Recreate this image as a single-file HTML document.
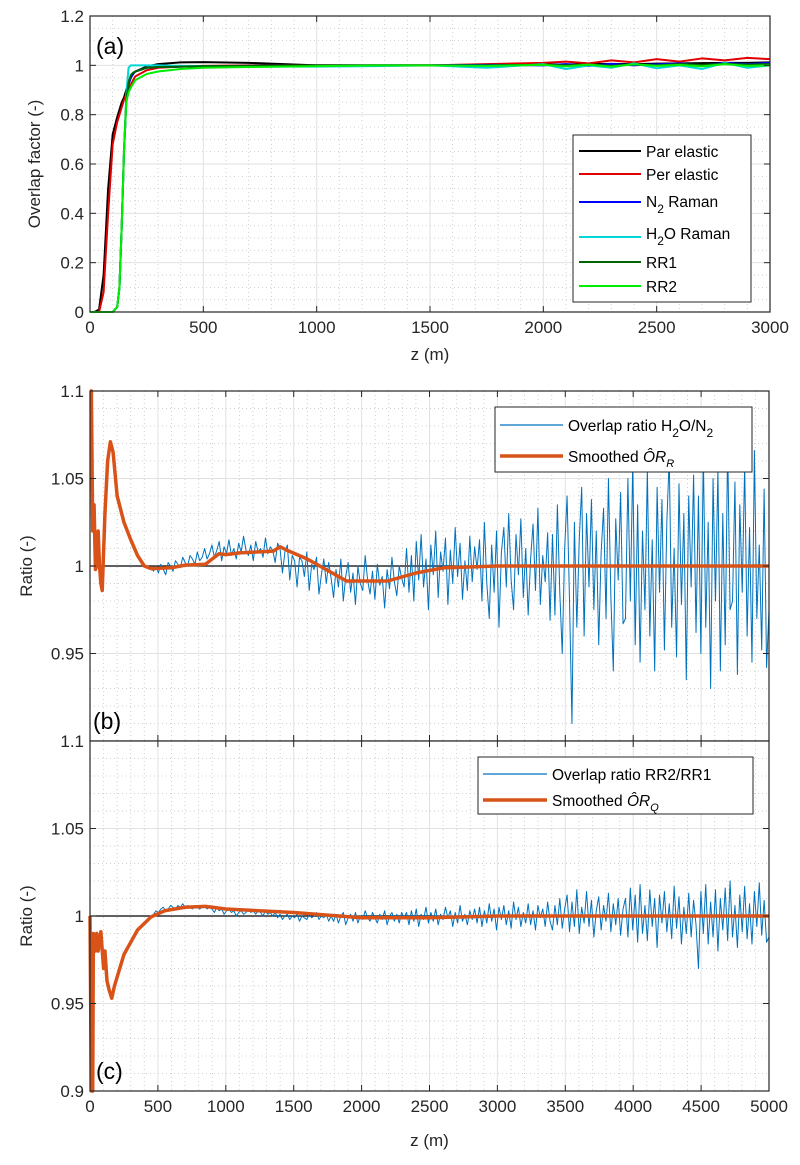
<!DOCTYPE html>
<html><head><meta charset="utf-8">
<style>
html,body{margin:0;padding:0;background:#fff;}
svg{display:block;font-family:"Liberation Sans",Arial,sans-serif;}
.tk{font-size:17px;fill:#262626;}
.tt{font-size:17px;fill:#262626;}
.lg{font-size:15.5px;fill:#000;}
</style></head>
<body>
<svg id="chart" width="800" height="1165" viewBox="0 0 800 1165" xmlns="http://www.w3.org/2000/svg"></svg>
<script>
// ---------- Panel (a) data ----------
const zA = [0,20,40,60,80,100,120,130,140,150,160,170,180,190,200,250,300,400,500,700,1000,1250,1500,1750,2000,2100,2200,2300,2400,2500,2600,2700,2800,2900,3000];
const parElastic = [0,0,0.01,0.15,0.5,0.72,0.79,0.82,0.85,0.87,0.9,0.93,0.95,0.965,0.975,0.995,1.005,1.012,1.013,1.01,1.0,1.0,1.0,1.002,1.003,1.004,1.005,1.006,1.005,1.007,1.008,1.009,1.01,1.01,1.012];
const perElastic = [0,0,0,0.08,0.4,0.68,0.77,0.8,0.83,0.86,0.88,0.9,0.92,0.94,0.955,0.98,0.99,0.995,0.998,1.0,1.0,1.0,1.0,1.005,1.01,1.015,1.008,1.02,1.012,1.025,1.015,1.028,1.02,1.03,1.025];
const n2Raman = [0,0,0,0,0,0,0.02,0.1,0.35,0.65,0.85,0.92,0.95,0.965,0.975,0.99,0.993,0.995,0.997,0.998,1.0,1.0,1.0,1.002,1.0,1.005,0.998,1.006,1.0,1.004,1.008,1.0,1.01,1.005,1.01];
const h2oRaman = [0,0,0,0,0,0,0.02,0.1,0.35,0.65,0.88,0.99,1.0,1.0,1.0,1.0,1.0,0.998,0.997,0.995,0.995,0.997,1.0,0.99,1.005,0.985,1.0,0.99,1.008,0.988,1.0,0.985,1.01,0.99,1.0];
const rr1 = [0,0,0,0,0,0,0.02,0.1,0.35,0.65,0.86,0.93,0.96,0.97,0.975,0.99,0.993,0.995,0.997,0.998,1.0,1.0,1.0,1.0,1.002,1.0,1.003,0.998,1.004,1.0,1.005,1.002,1.006,1.003,1.005];
const rr2 = [0,0,0,0,0,0,0.02,0.1,0.35,0.65,0.85,0.89,0.91,0.925,0.94,0.965,0.975,0.985,0.99,0.993,0.997,1.0,1.0,0.998,1.002,0.996,1.003,0.995,1.004,0.998,1.002,0.996,1.005,0.998,1.0];
const seriesNamesA = ["Par elastic","Per elastic","N2 Raman","H2O Raman","RR1","RR2"];
const xTicksA = [0,500,1000,1500,2000,2500,3000];
const yTicksA = [0,0.2,0.4,0.6,0.8,1,1.2];

// ---------- Panel (b) data ----------
const zSmoothB = [0,10,20,30,40,50,60,70,80,90,110,130,150,170,200,250,300,350,400,450,600,700,850,950,1000,1100,1350,1400,1450,1600,1890,2190,2400,2600,3000,5000];
const smoothB = [1.1,1.1,1.02,1.035,0.998,1.0,1.02,1.0,0.99,0.986,1.03,1.06,1.071,1.065,1.04,1.025,1.015,1.006,1.0,0.9985,0.999,1.0005,1.001,1.007,1.0065,1.0075,1.0085,1.011,1.009,1.004,0.9914,0.9914,0.996,0.9989,1.0,1.0];
const noiseStartB = 450, noiseEndB = 5000;
const noiseB = [-1,-3,0,-4,1,-2,-5,2,0,-3,3,1,-1,5,2,0,6,4,1,8,3,5,10,4,7,
12,5,9,14,3,11,7,15,6,10,4,13,8,17,9,6,12,3,14,8,10,5,16,7,11,
9,2,13,10,-4,8,12,-8,6,3,-12,5,3,-6,8,-14,1,-2,5,-16,-5,4,-10,2,-7,
-18,-2,-12,4,-20,-6,2,-15,-4,-22,0,-10,-14,6,-8,-16,-3,-19,1,-11,-6,-24,-2,-13,5,-9,-17,0,-7,-12,
10,-15,6,-20,14,-8,18,-12,4,-25,12,-5,20,-18,8,-3,16,-22,9,-10,22,-6,13,-19,3,-14,17,-9,11,-2,
15,-20,25,-10,-30,12,-15,20,-35,8,22,-12,30,-8,-25,18,-5,27,-18,10,-28,4,24,-14,33,-22,6,-9,19,-31,
18,-28,35,-15,-50,10,40,-20,-90,25,-35,15,45,-40,30,-12,38,-25,20,-45,8,33,-30,50,-18,-60,27,-8,42,-33,
-30,50,-20,60,-45,35,-55,20,-25,55,-40,15,-60,45,-15,38,-48,25,62,-35,10,-52,47,-22,30,-65,40,-12,52,-38,
40,-50,65,-35,25,-70,50,-20,55,-60,30,-45,70,-25,-20,48,-62,35,-15,58,-40,22,-55,66,-30,12,-48,44,-58,-25];

// ---------- Panel (c) data ----------
const zSmoothC = [0,10,20,25,40,50,60,80,100,110,125,140,160,180,250,350,450,550,700,850,1000,1500,2000,2500,3000,5000];
const smoothC = [1.0,0.9,0.9,0.99,0.98,0.99,0.98,0.991,0.97,0.98,0.963,0.958,0.953,0.96,0.978,0.992,0.9995,1.003,1.005,1.0055,1.004,1.002,0.999,0.999,1.0,1.0];
const noiseStartC = 450, noiseEndC = 5000;
const noiseC = [0,1,3,2,4,5,3,4,6,5,4,6,5,7,5,6,5,4,6,5,4,5,6,4,5,
4,2,5,3,4,1,3,4,2,3,0,2,3,1,2,4,2,3,1,3,2,0,3,1,2,
0,2,-1,1,-2,0,1,-2,0,-1,1,-3,0,-1,-2,1,-1,0,2,-2,0,-1,1,-3,0,
-3,1,-4,0,2,-5,-1,1,-3,2,-4,0,-2,3,-1,-3,2,-1,-4,1,-2,3,-5,0,2,-3,1,-4,2,-1,
2,-5,3,-3,4,-6,1,-2,5,-4,2,-3,4,-5,1,-2,5,-1,3,-6,2,-4,6,-3,1,-5,3,-2,4,-4,
5,-6,3,-4,7,-3,4,-8,5,-2,6,-5,3,-7,8,-2,5,-6,2,-4,7,-5,3,-8,6,-1,4,-6,8,-3,
-8,6,-5,10,-7,4,12,-9,8,-6,15,-10,5,-4,14,-6,9,-12,3,11,-8,6,-3,13,-9,7,-5,10,-11,4,
10,-12,16,-8,12,-15,18,-10,6,-14,15,-6,10,-18,12,-4,14,-9,7,-13,17,-7,11,-16,5,-10,13,-12,9,-5,
-30,14,-10,18,-16,8,-12,15,-20,10,-8,16,-14,20,-12,6,-18,12,-9,17,-13,7,-16,14,-6,19,-11,9,-15,-12];
const xTicksBC = [0,500,1000,1500,2000,2500,3000,3500,4000,4500,5000];
const yTicksBC = [0.9,0.95,1,1.05,1.1];

const NS = "http://www.w3.org/2000/svg";
const svg = document.getElementById("chart");
function mk(tag, attrs, parent){
  const e = document.createElementNS(NS, tag);
  for (const k in attrs) e.setAttribute(k, attrs[k]);
  (parent||svg).appendChild(e);
  return e;
}
function lin(d0,d1,r0,r1){ return v => r0 + (v-d0)/(d1-d0)*(r1-r0); }

function axesFrame(g, L, T, R, B, sx, sy, xMaj, xMin, yMaj, yMin){
  mk("rect",{x:L,y:T,width:R-L,height:B-T,fill:"#fff"},g);
  xMin.forEach(v=>{ if(!xMaj.includes(v)) mk("line",{x1:sx(v),x2:sx(v),y1:T,y2:B,stroke:"#d0d0d0","stroke-width":1,"stroke-dasharray":"1,3"},g);});
  yMin.forEach(v=>{ mk("line",{x1:L,x2:R,y1:sy(v),y2:sy(v),stroke:"#d0d0d0","stroke-width":1,"stroke-dasharray":"1,3"},g);});
  xMaj.forEach(v=>mk("line",{x1:sx(v),x2:sx(v),y1:T,y2:B,stroke:"#e2e2e2","stroke-width":1},g));
  yMaj.forEach(v=>mk("line",{x1:L,x2:R,y1:sy(v),y2:sy(v),stroke:"#e2e2e2","stroke-width":1},g));
}
function frameBorder(g,L,T,R,B,sx,sy,xMaj,yMaj){
  mk("rect",{x:L,y:T,width:R-L,height:B-T,fill:"none",stroke:"#262626","stroke-width":1.2},g);
  xMaj.forEach(v=>{ mk("line",{x1:sx(v),x2:sx(v),y1:B,y2:B-6,stroke:"#262626"},g); mk("line",{x1:sx(v),x2:sx(v),y1:T,y2:T+6,stroke:"#262626"},g);});
  yMaj.forEach(v=>{ mk("line",{x1:L,x2:L+6,y1:sy(v),y2:sy(v),stroke:"#262626"},g); mk("line",{x1:R,x2:R-6,y1:sy(v),y2:sy(v),stroke:"#262626"},g);});
}
function path(g, xs, ys, sx, sy, attrs){
  let d = "";
  xs.forEach((x,i)=>{ d += (i?"L":"M")+sx(x).toFixed(2)+","+sy(ys[i]).toFixed(2); });
  return mk("path",Object.assign({d:d,fill:"none","stroke-linejoin":"round"},attrs),g);
}
function range(n, a, b){ const o=[]; for(let i=0;i<n;i++) o.push(a+(b-a)*i/(n-1)); return o; }

// ===== Panel A =====
(function(){
  const L=90,T=16,R=770,B=312;
  const sx=lin(0,3000,L,R), sy=lin(0,1.2,B,T);
  const g=mk("g",{});  
  const xMin=[]; for(let v=0;v<=3000;v+=100) xMin.push(v);
  const yMin=[]; for(let v=0.05;v<1.2;v+=0.05) yMin.push(+v.toFixed(2));
  axesFrame(g,L,T,R,B,sx,sy,xTicksA,xMin,yTicksA,yMin);
  const cols=["#000000","#e00000","#0000ff","#00d8d8","#006400","#00ee00"];
  const data=[parElastic,perElastic,n2Raman,h2oRaman,rr1,rr2];
  const names=["par-elastic-line","per-elastic-line","n2-raman-line","h2o-raman-line","rr1-line","rr2-line"];
  data.forEach((s,i)=>{ const p=path(g,zA,s,sx,sy,{stroke:cols[i],"stroke-width":2});
      });
  frameBorder(g,L,T,R,B,sx,sy,xTicksA,yTicksA);
  xTicksA.forEach(v=>{ const t=mk("text",{x:sx(v),y:B+21,"text-anchor":"middle",class:"tk"},g); t.textContent=v;
      });
  yTicksA.forEach(v=>{ const t=mk("text",{x:L-6,y:sy(v)+6,"text-anchor":"end",class:"tk"},g); t.textContent=v;
      });
  const xt=mk("text",{x:(L+R)/2,y:B+48,"text-anchor":"middle",class:"tt"},g); xt.textContent="z (m)";
   
  const yt=mk("text",{x:0,y:0,"text-anchor":"middle",class:"tt",transform:"translate(40,"+((T+B)/2)+") rotate(-90)"},g); yt.textContent="Overlap factor (-)";
   
  const pl=mk("text",{x:96,y:54,style:"font-size:23px;fill:#000"},g); pl.textContent="(a)";
   
  const lg=mk("g",{},g);  
  mk("rect",{x:573,y:135,width:178,height:167,fill:"#fff",stroke:"#262626","stroke-width":1},lg);
  const rowsY=[151,174,201,233,262,286];
  const labels=[["Par elastic"],["Per elastic"],["N","2"," Raman"],["H","2","O Raman"],["RR1"],["RR2"]];
  rowsY.forEach((y,i)=>{
    const ly = i==2?y+1:(i==3?y+4:y);
    mk("line",{x1:579,x2:641,y1:ly,y2:ly,stroke:cols[i],"stroke-width":2},lg);
    const t=mk("text",{x:646,y:y+6,class:"lg"},lg);
     
    const parts=labels[i];
    if(parts.length===1) t.textContent=parts[0];
    else { const a=mk("tspan",{},t); a.textContent=parts[0];
      const b=mk("tspan",{dy:6,style:"font-size:12px"},t); b.textContent=parts[1];
      const c=mk("tspan",{dy:-6},t); c.textContent=parts[2]; }
  });
})();

// ===== Panels B & C =====
function ratioPanel(opts){
  const L=90,R=769,T=opts.T,B=opts.B;
  const sx=lin(0,5000,L,R), sy=lin(0.9,1.1,B,T);
  const g=mk("g",{});  
  const xMin=[]; for(let v=0;v<=5000;v+=100) xMin.push(v);
  const yMin=[]; for(let k=91;k<110;k++) yMin.push(k/100);
  axesFrame(g,L,T,R,B,sx,sy,xTicksBC,xMin,yTicksBC,yMin);
  mk("line",{x1:L,x2:R,y1:sy(1),y2:sy(1),stroke:"#000","stroke-width":1.2},g);
  const zs=range(opts.noise.length,opts.n0,opts.n1);
  const vals=opts.noise.map(d=>1+d/1000);
  const np=path(g,zs,vals,sx,sy,{stroke:"#0072bd","stroke-width":1});
   
  const sp=path(g,opts.zs,opts.sm,sx,v=>Math.max(T,Math.min(B,sy(v))),{stroke:"#d95319","stroke-width":3.5});
   
  frameBorder(g,L,T,R,B,sx,sy,xTicksBC,yTicksBC);
  yTicksBC.forEach(v=>{ if(opts.skipY && opts.skipY.includes(v)) return;
    const t=mk("text",{x:L-6,y:sy(v)+6,"text-anchor":"end",class:"tk"},g); t.textContent=v;
      });
  if(opts.xlabels){
    xTicksBC.forEach(v=>{ const t=mk("text",{x:sx(v),y:B+21,"text-anchor":"middle",class:"tk"},g); t.textContent=v;
        });
    const xt=mk("text",{x:(L+R)/2,y:B+55,"text-anchor":"middle",class:"tt"},g); xt.textContent="z (m)";
     
  }
  const yt=mk("text",{x:0,y:0,"text-anchor":"middle",class:"tt",transform:"translate(32,"+sy(1)+") rotate(-90)"},g); yt.textContent="Ratio (-)";
   
  const pl=mk("text",{x:opts.plx,y:B-12,style:"font-size:23px;fill:#000"},g); pl.textContent=opts.label;
   
  const lg=mk("g",{},g);  
  const Lb=opts.leg;
  mk("rect",{x:Lb.x,y:Lb.y,width:Lb.w,height:Lb.h,fill:"#fff",stroke:"#262626","stroke-width":1},lg);
  mk("line",{x1:Lb.x+5,x2:Lb.lx,y1:Lb.r1,y2:Lb.r1,stroke:"#0072bd","stroke-width":1.2},lg);
  mk("line",{x1:Lb.x+5,x2:Lb.lx,y1:Lb.r2,y2:Lb.r2,stroke:"#d95319","stroke-width":3.5},lg);
  const t1=mk("text",{x:Lb.lx+5,y:Lb.r1+6,class:"lg"},lg);
   
  opts.t1(t1);
  const t2=mk("text",{x:Lb.lx+5,y:Lb.r2+6,class:"lg"},lg);
   
  const a=mk("tspan",{},t2); a.textContent="Smoothed ";
  const o=mk("tspan",{style:"font-style:italic"},t2); o.textContent="O\u0302R";
  const s=mk("tspan",{dy:5,style:"font-size:11px;font-style:italic"},t2); s.textContent=opts.sub;
}
ratioPanel({name:"panel-b",T:391,B:741,zs:zSmoothB,sm:smoothB,noise:noiseB,n0:noiseStartB,n1:noiseEndB,skipY:[0.9],xlabels:false,label:"(b)",plx:93,sub:"R",
  leg:{x:495,y:407,w:257,h:65,lx:563,r1:425,r2:456},
  t1:t=>{ const a=mk("tspan",{},t); a.textContent="Overlap ratio H";
    const b=mk("tspan",{dy:6,style:"font-size:12px"},t); b.textContent="2";
    const c=mk("tspan",{dy:-6},t); c.textContent="O/N";
    const d=mk("tspan",{dy:6,style:"font-size:12px"},t); d.textContent="2"; }});
ratioPanel({name:"panel-c",T:741,B:1091,zs:zSmoothC,sm:smoothC,noise:noiseC,n0:noiseStartC,n1:noiseEndC,skipY:[],xlabels:true,label:"(c)",plx:96,sub:"Q",
  leg:{x:478,y:757,w:275,h:57,lx:547,r1:774,r2:800},
  t1:t=>{ t.textContent="Overlap ratio RR2/RR1"; }});
</script>
</body></html>
